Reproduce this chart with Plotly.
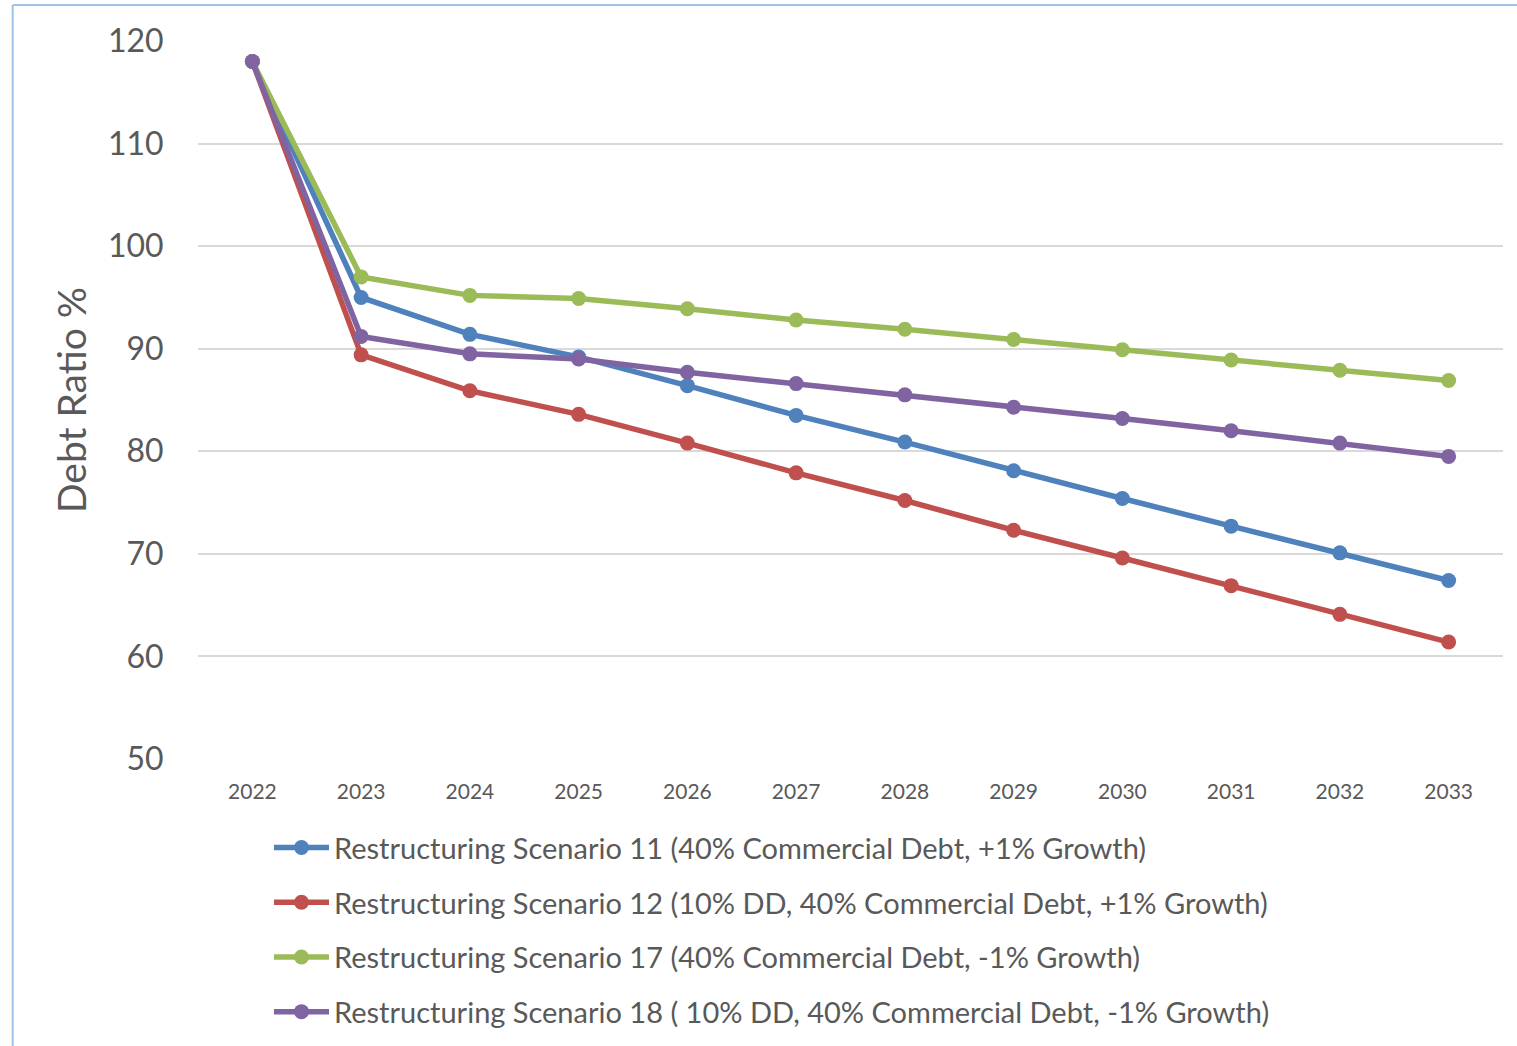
import plotly.graph_objects as go

# Projection years and debt-ratio paths for each restructuring scenario
years = ["2022", "2023", "2024", "2025", "2026", "2027", "2028", "2029", "2030", "2031", "2032", "2033"]

scenario_11 = [118.0, 95.0, 91.4, 89.2, 86.4, 83.5, 80.9, 78.1, 75.4, 72.7, 70.1, 67.4]
scenario_12 = [118.0, 89.4, 85.9, 83.6, 80.8, 77.9, 75.2, 72.3, 69.6, 66.9, 64.1, 61.4]
scenario_17 = [118.0, 97.0, 95.2, 94.9, 93.9, 92.8, 91.9, 90.9, 89.9, 88.9, 87.9, 86.9]
scenario_18 = [118.0, 91.2, 89.5, 89.0, 87.7, 86.6, 85.5, 84.3, 83.2, 82.0, 80.8, 79.5]

series_names = [
    "Restructuring Scenario 11 (40% Commercial Debt, +1% Growth)",
    "Restructuring Scenario 12 (10% DD, 40% Commercial Debt, +1% Growth)",
    "Restructuring Scenario 17 (40% Commercial Debt, -1% Growth)",
    "Restructuring Scenario 18 ( 10% DD, 40% Commercial Debt, -1% Growth)",
]
series_values = [scenario_11, scenario_12, scenario_17, scenario_18]
series_colors = ["#4F81BD", "#C0504D", "#9BBB59", "#8064A2"]

y_ticks = [50, 60, 70, 80, 90, 100, 110, 120]

FONT = "Lato, 'Open Sans', sans-serif"
TEXT = "#595959"

fig = go.Figure()
for i, (name, vals, col) in enumerate(zip(series_names, series_values, series_colors)):
    fig.add_trace(go.Scatter(
        x=years, y=vals, name=name, mode="lines+markers",
        legendgroup=f"g{i}",
        line=dict(color=col, width=5.5),
        marker=dict(color=col, size=15),
    ))

fig.update_layout(
    width=1517, height=1046,
    paper_bgcolor="white", plot_bgcolor="white",
    margin=dict(l=198, r=14, t=41, b=287, autoexpand=False),
    font=dict(family=FONT, color=TEXT),
    showlegend=True,
    legend=dict(
        x=0.0544, xanchor="left", y=-0.088, yanchor="top",
        font=dict(family=FONT, size=29, color=TEXT),
        tracegroupgap=14, itemwidth=55,
        bgcolor="rgba(0,0,0,0)",
    ),
    xaxis=dict(
        type="category", range=[-0.5, 11.5],
        showgrid=False, zeroline=False, showline=False,
        tickfont=dict(family=FONT, size=21, color=TEXT),
        ticks="outside", ticklen=14, tickcolor="rgba(0,0,0,0)",
    ),
    yaxis=dict(
        range=[50, 120], tickvals=y_ticks,
        showgrid=True, gridcolor="#D9D9D9", gridwidth=2,
        zeroline=False, showline=False,
        tickfont=dict(family=FONT, size=32, color=TEXT),
        ticks="outside", ticklen=27, tickcolor="rgba(0,0,0,0)",
        title=dict(text="Debt Ratio %", font=dict(family=FONT, size=39, color=TEXT), standoff=9),
    ),
    shapes=[
        dict(type="line", xref="paper", yref="paper",
             x0=-0.142, x1=-0.142, y0=1.05, y1=-0.42,
             line=dict(color="#9DC3E6", width=2)),
        dict(type="line", xref="paper", yref="paper",
             x0=-0.142, x1=1.02, y0=1.05, y1=1.05,
             line=dict(color="#9DC3E6", width=2)),
    ],
)

fig.write_html("out.html")
